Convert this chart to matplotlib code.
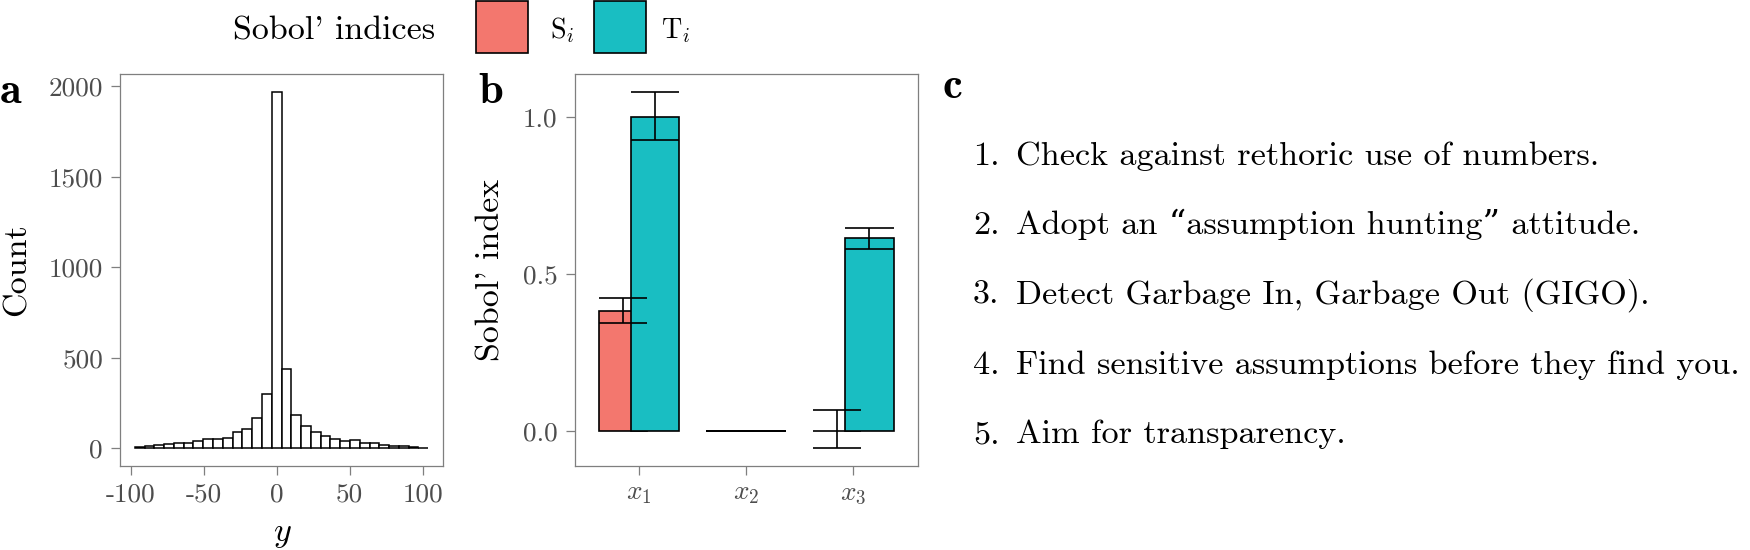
import matplotlib
matplotlib.use('Agg')
import matplotlib.pyplot as plt
from matplotlib.patches import Rectangle
import numpy as np

plt.rcParams['font.family'] = ['cmr10', 'DejaVu Serif']
plt.rcParams['mathtext.fontset'] = 'cm'
plt.rcParams['axes.unicode_minus'] = False
plt.rcParams['axes.formatter.use_mathtext'] = True

# --- data ---
# panel a: histogram of y, 30 bins
counts = [7, 13, 18, 22, 30, 30, 38, 48, 52, 55, 87, 104, 167, 301, 1970,
          439, 182, 123, 90, 65, 53, 41, 43, 30, 30, 19, 14, 13, 7, 2]
bin_lo, bin_hi = -97.3, 103.9
hist_xticks = [-100, -50, 0, 50, 100]
hist_xticklabels = ['-100', '-50', '0', '50', '100']
hist_yticks = [0, 500, 1000, 1500, 2000]

# panel b: Sobol' indices with confidence intervals
variables = [r'$x_1$', r'$x_2$', r'$x_3$']
S_est = [0.383, 0.0, 0.0]
S_low = [0.343, 0.0, -0.053]
S_high = [0.424, 0.0, 0.067]
T_est = [1.0, 0.0, 0.615]
T_low = [0.926, 0.0, 0.580]
T_high = [1.081, 0.0, 0.647]
sobol_yticks = [0.0, 0.5, 1.0]
sobol_yticklabels = ['0.0', '0.5', '1.0']
legend_labels = [r'S$_i$', r'T$_i$']

# panel c
recommendations = [
    'Check against rethoric use of numbers.',
    'Adopt an \u201cassumption hunting\u201d attitude.',
    'Detect Garbage In, Garbage Out (GIGO).',
    'Find sensitive assumptions before they find you.',
    'Aim for transparency.',
]

col_S = '#F3776E'
col_T = '#19BEC2'
W, H = 1750, 550
title_fs = 24.5
list_fs = 24.6
tick_fs = 19.6
spine_col = '#7F7F7F'
tick_col = '#4D4D4D'


def px(x, y):
    return x / W, 1 - y / H


def style_axes(ax):
    for s in ax.spines.values():
        s.set_color(spine_col)
        s.set_linewidth(0.9)
    ax.tick_params(length=6.2, width=0.9, color=spine_col, labelcolor=tick_col,
                   labelsize=tick_fs, pad=6)


fig = plt.figure(figsize=(W / 100, H / 100), dpi=100)

# --- panel a ---
ax1 = fig.add_axes([120 / W, (H - 466) / H, 323 / W, 392 / H])
edges = np.linspace(bin_lo, bin_hi, len(counts) + 1)
ax1.bar(edges[:-1], counts, width=np.diff(edges), align='edge',
        facecolor='white', edgecolor='black', linewidth=1.1)
ax1.set_xlim(-107.4, 114)
ymax = max(counts)
ax1.set_ylim(-0.05 * ymax, 1.05 * ymax)
ax1.set_xticks(hist_xticks, hist_xticklabels)
ax1.set_yticks(hist_yticks, [str(t) for t in hist_yticks])
style_axes(ax1)
fig.text(*px(17, 270), 'Count', rotation=90, ha='center', va='center',
         fontsize=title_fs)
fig.text(*px(282, 541), r'$y$', ha='center', va='baseline', fontsize=title_fs)

# --- panel b ---
ax2 = fig.add_axes([574.7 / W, (H - 465.5) / H, 343 / W, 391.5 / H])
x = np.arange(1, len(variables) + 1)
off, bw = 0.15, 0.45
ax2.bar(x - off, S_est, width=bw, facecolor=col_S, edgecolor='black',
        linewidth=1.2, zorder=2)
ax2.bar(x + off, T_est, width=bw, facecolor=col_T, edgecolor='black',
        linewidth=1.2, zorder=2)
for xc, lo, hi in ((x - off, S_low, S_high), (x + off, T_low, T_high)):
    ax2.vlines(xc, lo, hi, color='black', linewidth=1.2, zorder=3)
    ax2.hlines(lo, xc - bw / 2, xc + bw / 2, color='black', linewidth=1.2, zorder=3)
    ax2.hlines(hi, xc - bw / 2, xc + bw / 2, color='black', linewidth=1.2, zorder=3)
ax2.set_xlim(0.4, 3.6)
lo_all = min(S_low + T_low)
hi_all = max(S_high + T_high)
rng = hi_all - lo_all
ax2.set_ylim(lo_all - 0.05 * rng, hi_all + 0.05 * rng)
ax2.set_xticks(x, variables)
ax2.set_yticks(sobol_yticks, sobol_yticklabels)
style_axes(ax2)
fig.text(*px(491, 270), "Sobol' index", rotation=90, ha='center', va='center',
         fontsize=title_fs)

# --- legend (title on the left, like ggplot) ---
fig.text(*px(233, 40), "Sobol' indices", ha='left', va='baseline',
         fontsize=title_fs)
key = 52
for kx, lx, col, lab in zip([476, 594], [550, 661], [col_S, col_T], legend_labels):
    fig.add_artist(Rectangle(px(kx, 1 + key), key / W, key / H,
                             transform=fig.transFigure, facecolor=col,
                             edgecolor='black', linewidth=1.2))
    fig.text(*px(lx, 38), lab, ha='left', va='baseline', fontsize=tick_fs + 0.6)

# --- panel letters ---
for lab, (lx, ly) in zip('abc', [(0, 103), (478, 103), (942, 98)]):
    fig.text(*px(lx, ly), lab, fontfamily='cmb10', fontsize=32,
             ha='left', va='baseline')

# --- panel c ---
for i, txt in enumerate(recommendations):
    yb = 165 + i * 69.5
    fig.text(*px(973, yb), f'{i + 1}.', ha='left', va='baseline',
             fontsize=list_fs)
    fig.text(*px(1016, yb), txt, ha='left', va='baseline', fontsize=list_fs)

fig.savefig('out.png', dpi=100)
